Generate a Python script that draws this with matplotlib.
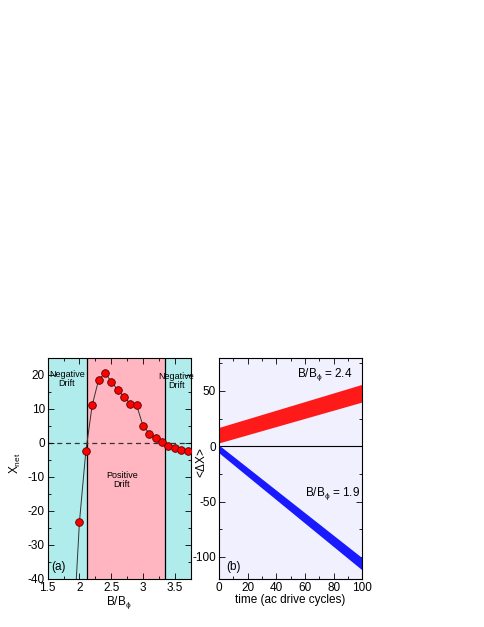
import matplotlib.pyplot as plt
from matplotlib.ticker import MultipleLocator, FormatStrFormatter

plt.rcParams['font.family'] = ['Liberation Sans', 'DejaVu Sans']
plt.rcParams['mathtext.fontset'] = 'custom'
plt.rcParams['mathtext.rm'] = 'Liberation Sans'
plt.rcParams['mathtext.it'] = 'Liberation Sans'
plt.rcParams['axes.unicode_minus'] = False

# panel (a): net drift vs field
b_ratio = [1.9, 2.0, 2.1, 2.2, 2.3, 2.4, 2.5, 2.6, 2.7, 2.8, 2.9, 3.0, 3.1, 3.2, 3.3, 3.4, 3.5, 3.6, 3.7]
x_net = [-57, -23.2, -2.5, 11.0, 18.4, 20.6, 18.0, 15.6, 13.5, 11.5, 11.0, 5.0, 2.7, 1.5, 0.1, -1.0, -1.6, -2.0, -2.4]
pos_region = (2.117, 3.34)

# panel (b): displacement bands (lower/upper edges) vs time
t_band = [0, 100]
red_lo = [3, 40]
red_hi = [17, 56]
blue_lo = [-6, -112]
blue_hi = [1, -101]

fig = plt.figure(figsize=(4.85, 6.27), dpi=100)
ax1 = fig.add_axes([0.0983, 0.0766, 0.2949, 0.3529])
ax2 = fig.add_axes([0.4515, 0.0766, 0.2955, 0.3529])

fs = 8.5
for ax in (ax1, ax2):
    ax.tick_params(which='both', direction='in', top=True, right=True, labelsize=fs, width=0.6)
    ax.tick_params(which='major', length=4, pad=2)
    ax.tick_params(which='minor', length=2)
    ax.xaxis.set_major_formatter(FormatStrFormatter('%g'))
    ax.yaxis.set_major_formatter(FormatStrFormatter('%g'))
    for s in ax.spines.values():
        s.set_linewidth(0.8)

# ---- panel (a)
ax1.set_xlim(1.5, 3.75)
ax1.set_ylim(-40, 25)
ax1.axvspan(1.5, pos_region[0], color='#b1ecec', zorder=0)
ax1.axvspan(pos_region[0], pos_region[1], color='#ffb6c1', zorder=0)
ax1.axvspan(pos_region[1], 3.75, color='#b1ecec', zorder=0)
ax1.axvline(pos_region[0], color='black', lw=0.9, zorder=1)
ax1.axvline(pos_region[1], color='black', lw=0.9, zorder=1)
ax1.axhline(0, color='#333333', lw=0.9, ls=(0, (4, 3)), zorder=1)
ax1.plot(b_ratio, x_net, color='#333333', lw=0.7, zorder=2)
ax1.plot(b_ratio, x_net, 'o', ms=5.5, mfc='red', mec='#550000', mew=0.6, zorder=3)
ax1.xaxis.set_major_locator(MultipleLocator(0.5))
ax1.xaxis.set_minor_locator(MultipleLocator(0.25))
ax1.yaxis.set_major_locator(MultipleLocator(10))
ax1.yaxis.set_minor_locator(MultipleLocator(5))
ax1.set_xlabel(r'B/B$_\phi$', fontsize=fs, labelpad=0)
ax1.set_ylabel(r'X$_{\rm net}$', fontsize=fs)
ax1.yaxis.set_label_coords(-0.17, 0.524)
ax1.text(1.80, 18.7, 'Negative\nDrift', fontsize=6.5, ha='center', va='center', linespacing=0.95)
ax1.text(3.52, 18.2, 'Negative\nDrift', fontsize=6.5, ha='center', va='center', linespacing=0.95)
ax1.text(2.665, -11, 'Positive\nDrift', fontsize=6.5, ha='center', va='center', linespacing=0.95)
ax1.text(1.55, -36.5, '(a)', fontsize=fs, ha='left', va='center')

# ---- panel (b)
ax2.set_facecolor('#f0f0fe')
ax2.set_xlim(0, 100)
ax2.set_ylim(-120, 80)
ax2.axhline(0, color='black', lw=0.8, zorder=1)
ax2.fill_between(t_band, red_lo, red_hi, color='#ff1a1a', lw=0, zorder=2)
ax2.fill_between(t_band, blue_lo, blue_hi, color='#1a1aff', lw=0, zorder=2)
ax2.xaxis.set_major_locator(MultipleLocator(20))
ax2.xaxis.set_minor_locator(MultipleLocator(10))
ax2.yaxis.set_major_locator(MultipleLocator(50))
ax2.yaxis.set_minor_locator(MultipleLocator(25))
ax2.set_xlabel('time (ac drive cycles)', fontsize=fs, labelpad=0)
ax2.set_ylabel(r'<$\Delta$X>', fontsize=fs)
ax2.yaxis.set_label_coords(-0.075, 0.524)
ax2.text(74, 65, r'B/B$_\phi$ = 2.4', fontsize=fs, ha='center', va='center')
ax2.text(79, -43, r'B/B$_\phi$ = 1.9', fontsize=fs, ha='center', va='center')
ax2.text(5, -109, '(b)', fontsize=fs, ha='left', va='center')

fig.savefig('out.png', dpi=100)
